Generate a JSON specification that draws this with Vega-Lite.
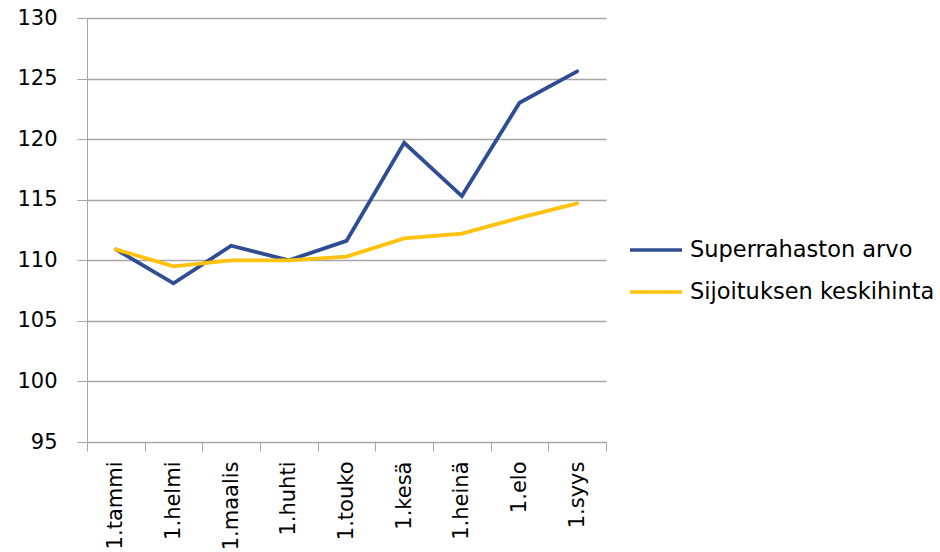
{
  "$schema": "https://vega.github.io/schema/vega-lite/v6.json",
  "autosize": {"type": "none"},
  "width": 519,
  "height": 424,
  "padding": {"left": 87, "top": 18, "right": 334, "bottom": 110},
  "background": "white",
  "config": {
    "view": {"stroke": null},
    "font": "DejaVu Sans",
    "axis": {"labelFont": "DejaVu Sans", "labelColor": "#000000", "domainColor": "#A6A6A6", "tickColor": "#A6A6A6", "gridColor": "#A6A6A6"}
  },
  "data": {
    "values": [
      {"month": "1.tammi", "series": "Superrahaston arvo", "value": 110.9},
      {"month": "1.helmi", "series": "Superrahaston arvo", "value": 108.1},
      {"month": "1.maalis", "series": "Superrahaston arvo", "value": 111.2},
      {"month": "1.huhti", "series": "Superrahaston arvo", "value": 110.0},
      {"month": "1.touko", "series": "Superrahaston arvo", "value": 111.6},
      {"month": "1.kesä", "series": "Superrahaston arvo", "value": 119.7},
      {"month": "1.heinä", "series": "Superrahaston arvo", "value": 115.3},
      {"month": "1.elo", "series": "Superrahaston arvo", "value": 123.0},
      {"month": "1.syys", "series": "Superrahaston arvo", "value": 125.6},
      {"month": "1.tammi", "series": "Sijoituksen keskihinta", "value": 110.9},
      {"month": "1.helmi", "series": "Sijoituksen keskihinta", "value": 109.5},
      {"month": "1.maalis", "series": "Sijoituksen keskihinta", "value": 110.0},
      {"month": "1.huhti", "series": "Sijoituksen keskihinta", "value": 110.0},
      {"month": "1.touko", "series": "Sijoituksen keskihinta", "value": 110.3},
      {"month": "1.kesä", "series": "Sijoituksen keskihinta", "value": 111.8},
      {"month": "1.heinä", "series": "Sijoituksen keskihinta", "value": 112.2},
      {"month": "1.elo", "series": "Sijoituksen keskihinta", "value": 113.5},
      {"month": "1.syys", "series": "Sijoituksen keskihinta", "value": 114.7}
    ]
  },
  "mark": {"type": "line", "strokeWidth": 3.8, "strokeCap": "round", "strokeJoin": "miter"},
  "encoding": {
    "x": {
      "field": "month",
      "type": "nominal",
      "sort": null,
      "scale": {"type": "band", "paddingInner": 0, "paddingOuter": 0},
      "axis": {
        "title": null,
        "labelAngle": -90,
        "labelAlign": "right",
        "labelBaseline": "middle",
        "labelFontSize": 21,
        "tickBand": "extent",
        "tickSize": 9,
        "labelPadding": 10,
        "grid": false,
        "domainColor": "#A6A6A6"
      }
    },
    "y": {
      "field": "value",
      "type": "quantitative",
      "scale": {"domain": [95, 130], "nice": false, "zero": false},
      "axis": {
        "title": null,
        "values": [95, 100, 105, 110, 115, 120, 125, 130],
        "labelFontSize": 21,
        "tickSize": 10,
        "labelPadding": 20,
        "grid": true,
        "gridWidth": 1.3,
        "domain": true
      }
    },
    "color": {
      "field": "series",
      "type": "nominal",
      "scale": {"domain": ["Superrahaston arvo", "Sijoituksen keskihinta"], "range": ["#2F4D93", "#FFC20E"]},
      "legend": {
        "title": null,
        "orient": "none",
        "legendX": 541,
        "legendY": 204,
        "symbolType": "stroke",
        "symbolSize": 2704,
        "symbolStrokeWidth": 3.5,
        "labelFontSize": 22.5,
        "labelFont": "DejaVu Sans",
        "labelColor": "#000000",
        "labelOffset": 6,
        "rowPadding": 2,
        "labelLimit": 400
      }
    }
  }
}
